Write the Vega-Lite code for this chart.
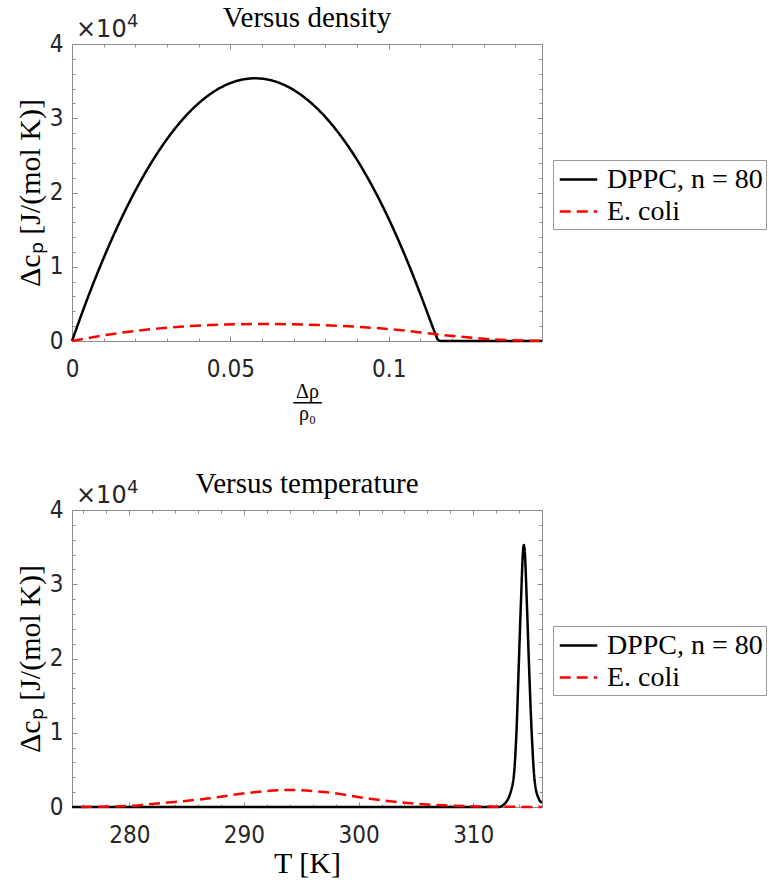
{
  "$schema": "https://vega.github.io/schema/vega-lite/v6.json",
  "background": "white",
  "padding": {"left": 14, "top": 3, "right": 0, "bottom": 3},
  "datasets": {
    "density": [
      {"drho": 0, "dcp": 0, "series": "DPPC, n = 80"},
      {"drho": 0.005, "dcp": 5857, "series": "DPPC, n = 80"},
      {"drho": 0.01, "dcp": 11184, "series": "DPPC, n = 80"},
      {"drho": 0.015, "dcp": 15981, "series": "DPPC, n = 80"},
      {"drho": 0.02, "dcp": 20249, "series": "DPPC, n = 80"},
      {"drho": 0.025, "dcp": 23987, "series": "DPPC, n = 80"},
      {"drho": 0.03, "dcp": 27196, "series": "DPPC, n = 80"},
      {"drho": 0.035, "dcp": 29875, "series": "DPPC, n = 80"},
      {"drho": 0.04, "dcp": 32025, "series": "DPPC, n = 80"},
      {"drho": 0.045, "dcp": 33645, "series": "DPPC, n = 80"},
      {"drho": 0.05, "dcp": 34736, "series": "DPPC, n = 80"},
      {"drho": 0.055, "dcp": 35297, "series": "DPPC, n = 80"},
      {"drho": 0.0578, "dcp": 35380, "series": "DPPC, n = 80"},
      {"drho": 0.06, "dcp": 35329, "series": "DPPC, n = 80"},
      {"drho": 0.065, "dcp": 34831, "series": "DPPC, n = 80"},
      {"drho": 0.07, "dcp": 33804, "series": "DPPC, n = 80"},
      {"drho": 0.075, "dcp": 32247, "series": "DPPC, n = 80"},
      {"drho": 0.08, "dcp": 30161, "series": "DPPC, n = 80"},
      {"drho": 0.085, "dcp": 27545, "series": "DPPC, n = 80"},
      {"drho": 0.09, "dcp": 24400, "series": "DPPC, n = 80"},
      {"drho": 0.095, "dcp": 20700, "series": "DPPC, n = 80"},
      {"drho": 0.1, "dcp": 16450, "series": "DPPC, n = 80"},
      {"drho": 0.105, "dcp": 11650, "series": "DPPC, n = 80"},
      {"drho": 0.11, "dcp": 6300, "series": "DPPC, n = 80"},
      {"drho": 0.113, "dcp": 2900, "series": "DPPC, n = 80"},
      {"drho": 0.1148, "dcp": 900, "series": "DPPC, n = 80"},
      {"drho": 0.1156, "dcp": 150, "series": "DPPC, n = 80"},
      {"drho": 0.1165, "dcp": 0, "series": "DPPC, n = 80"},
      {"drho": 0.1484, "dcp": 0, "series": "DPPC, n = 80"},
      {"drho": 0, "dcp": 0, "series": "E. coli"},
      {"drho": 0.0119, "dcp": 890, "series": "E. coli"},
      {"drho": 0.0277, "dcp": 1700, "series": "E. coli"},
      {"drho": 0.0435, "dcp": 2150, "series": "E. coli"},
      {"drho": 0.0593, "dcp": 2290, "series": "E. coli"},
      {"drho": 0.0698, "dcp": 2240, "series": "E. coli"},
      {"drho": 0.0856, "dcp": 2020, "series": "E. coli"},
      {"drho": 0.1014, "dcp": 1560, "series": "E. coli"},
      {"drho": 0.1171, "dcp": 810, "series": "E. coli"},
      {"drho": 0.1329, "dcp": 220, "series": "E. coli"},
      {"drho": 0.1484, "dcp": 20, "series": "E. coli"}
    ],
    "temperature": [
      {"T": 275, "dcp": 0, "series": "DPPC, n = 80"},
      {"T": 312.2, "dcp": 0, "series": "DPPC, n = 80"},
      {"T": 312.75, "dcp": 440, "series": "DPPC, n = 80"},
      {"T": 313.47, "dcp": 3340, "series": "DPPC, n = 80"},
      {"T": 313.77, "dcp": 10030, "series": "DPPC, n = 80"},
      {"T": 313.97, "dcp": 18940, "series": "DPPC, n = 80"},
      {"T": 314.17, "dcp": 27860, "series": "DPPC, n = 80"},
      {"T": 314.35, "dcp": 34550, "series": "DPPC, n = 80"},
      {"T": 314.42, "dcp": 35300, "series": "DPPC, n = 80"},
      {"T": 314.49, "dcp": 34550, "series": "DPPC, n = 80"},
      {"T": 314.67, "dcp": 27860, "series": "DPPC, n = 80"},
      {"T": 314.87, "dcp": 18940, "series": "DPPC, n = 80"},
      {"T": 315.1, "dcp": 10030, "series": "DPPC, n = 80"},
      {"T": 315.37, "dcp": 3340, "series": "DPPC, n = 80"},
      {"T": 315.72, "dcp": 1110, "series": "DPPC, n = 80"},
      {"T": 316, "dcp": 575, "series": "DPPC, n = 80"},
      {"T": 275.8, "dcp": 0, "series": "E. coli"},
      {"T": 279.8, "dcp": 135, "series": "E. coli"},
      {"T": 283.3, "dcp": 590, "series": "E. coli"},
      {"T": 287.0, "dcp": 1170, "series": "E. coli"},
      {"T": 290.2, "dcp": 1870, "series": "E. coli"},
      {"T": 294.0, "dcp": 2290, "series": "E. coli"},
      {"T": 297.2, "dcp": 1990, "series": "E. coli"},
      {"T": 301.0, "dcp": 1120, "series": "E. coli"},
      {"T": 304.5, "dcp": 500, "series": "E. coli"},
      {"T": 307.4, "dcp": 230, "series": "E. coli"},
      {"T": 311.7, "dcp": 50, "series": "E. coli"},
      {"T": 316.0, "dcp": 0, "series": "E. coli"}
    ]
  },
  "config": {
    "view": {"stroke": "#8c8c8c", "strokeWidth": 1},
    "axis": {
      "labelFont": "DejaVu Sans Condensed, DejaVu Sans", "labelFontSize": 24, "labelColor": "#262626",
      "titleFont": "Liberation Serif", "titleFontSize": 30, "titleFontWeight": "normal", "titleColor": "#000000",
      "grid": false, "labelFlush": false, "labelOverlap": false,
      "tickColor": "#8c8c8c", "domainColor": "#8c8c8c", "tickWidth": 1
    },
    "legend": {
      "orient": "none", "legendX": 481, "legendY": 116, "title": null, "symbolType": "M-1.25,0H1.25", "symbolSize": 900,
      "symbolStrokeWidth": 2.5, "labelFont": "Liberation Serif", "labelFontSize": 28, "labelColor": "#000000",
      "strokeColor": "#999999", "fillColor": "white", "padding": 3, "rowPadding": 1, "labelOffset": 12, "symbolOffset": 6
    },
    "title": {"font": "Liberation Serif", "fontSize": 29, "fontWeight": "normal", "color": "#000000", "frame": "group", "anchor": "middle", "baseline": "alphabetic"}
  },
  "spacing": 45,
  "resolve": {
    "scale": {"color": "independent", "strokeDash": "independent"},
    "legend": {"color": "independent", "strokeDash": "independent"}
  },
  "vconcat": [
    {
      "title": {"text": "Versus density", "offset": -20},
      "width": 470,
      "height": 297,
      "resolve": {"axis": {"x": "independent", "y": "independent"}},
      "layer": [
        {
          "data": {"name": "density"},
          "mark": {"type": "line", "strokeWidth": 2.5, "interpolate": "monotone"},
          "encoding": {
            "x": {"field": "drho", "type": "quantitative",
                  "scale": {"domain": [0, 0.1484], "nice": false, "zero": false},
                  "axis": {"orient": "bottom", "values": [0, 0.05, 0.1], "labelExpr": "format(datum.value, '~g')", "ticks": false, "domain": false, "labelPadding": 16,
                           "title": ["Δρ", "──", "ρ₀"], "titleFontSize": 20, "titleLineHeight": 11, "titlePadding": 0}},
            "y": {"field": "dcp", "type": "quantitative",
                  "scale": {"domain": [0, 40000], "nice": false},
                  "axis": {"orient": "left", "values": [0, 10000, 20000, 30000, 40000], "labelExpr": "format(datum.value/10000, 'd')",
                           "ticks": false, "domain": false, "labelPadding": 9, "title": "Δcₚ [J/(mol K)]", "titlePadding": 4}},
            "color": {"field": "series", "type": "nominal",
                      "scale": {"domain": ["DPPC, n = 80", "E. coli"], "range": ["#000000", "#ff0000"]}},
            "strokeDash": {"field": "series", "type": "nominal",
                           "scale": {"domain": ["DPPC, n = 80", "E. coli"], "range": [[1, 0], [11, 6]]}}
          }
        },
        {
          "data": {"values": [{"t": "×10"}]},
          "mark": {"type": "text", "align": "left", "baseline": "alphabetic", "dx": 4, "dy": -7, "font": "DejaVu Sans", "fontSize": 24, "color": "#262626"},
          "encoding": {
            "text": {"field": "t"},
            "x": {"datum": 0, "type": "quantitative",
                  "axis": {"orient": "bottom", "values": [0, 0.01, 0.02, 0.03, 0.04, 0.05, 0.06, 0.07, 0.08, 0.09, 0.1, 0.11, 0.12, 0.13, 0.14],
                           "labels": false, "domain": false, "title": null,
                           "tickSize": {"condition": {"test": "abs(datum.value*20 - round(datum.value*20)) < 0.000001", "value": -5}, "value": -3}}},
            "y": {"datum": 40000, "type": "quantitative",
                  "axis": {"orient": "left", "values": [0, 2000, 4000, 6000, 8000, 10000, 12000, 14000, 16000, 18000, 20000, 22000, 24000, 26000, 28000, 30000, 32000, 34000, 36000, 38000, 40000],
                           "labels": false, "domain": false, "title": null,
                           "tickSize": {"condition": {"test": "datum.value % 10000 === 0", "value": -5}, "value": -3}}}
          }
        },
        {
          "data": {"values": [{"t": "4"}]},
          "mark": {"type": "text", "align": "left", "baseline": "alphabetic", "dx": 55, "dy": -17, "font": "DejaVu Sans", "fontSize": 18, "color": "#262626"},
          "encoding": {
            "text": {"field": "t"},
            "x": {"datum": 0, "type": "quantitative",
                  "axis": {"orient": "top", "values": [0, 0.01, 0.02, 0.03, 0.04, 0.05, 0.06, 0.07, 0.08, 0.09, 0.1, 0.11, 0.12, 0.13, 0.14],
                           "labels": false, "domain": false, "title": null,
                           "tickSize": {"condition": {"test": "abs(datum.value*20 - round(datum.value*20)) < 0.000001", "value": -5}, "value": -3}}},
            "y": {"datum": 40000, "type": "quantitative",
                  "axis": {"orient": "right", "values": [0, 2000, 4000, 6000, 8000, 10000, 12000, 14000, 16000, 18000, 20000, 22000, 24000, 26000, 28000, 30000, 32000, 34000, 36000, 38000, 40000],
                           "labels": false, "domain": false, "title": null,
                           "tickSize": {"condition": {"test": "datum.value % 10000 === 0", "value": -5}, "value": -3}}}
          }
        }
      ]
    },
    {
      "title": {"text": "Versus temperature", "offset": -20},
      "width": 470,
      "height": 297,
      "resolve": {"axis": {"x": "independent", "y": "independent"}},
      "layer": [
        {
          "data": {"name": "temperature"},
          "mark": {"type": "line", "strokeWidth": 2.5, "interpolate": "monotone"},
          "encoding": {
            "x": {"field": "T", "type": "quantitative",
                  "scale": {"domain": [275, 316], "nice": false, "zero": false},
                  "axis": {"orient": "bottom", "values": [280, 290, 300, 310], "ticks": false, "domain": false, "labelPadding": 16,
                           "title": "T [K]", "titleFontSize": 30, "titlePadding": 1}},
            "y": {"field": "dcp", "type": "quantitative",
                  "scale": {"domain": [0, 40000], "nice": false},
                  "axis": {"orient": "left", "values": [0, 10000, 20000, 30000, 40000], "labelExpr": "format(datum.value/10000, 'd')",
                           "ticks": false, "domain": false, "labelPadding": 9, "title": "Δcₚ [J/(mol K)]", "titlePadding": 4}},
            "color": {"field": "series", "type": "nominal",
                      "scale": {"domain": ["DPPC, n = 80", "E. coli"], "range": ["#000000", "#ff0000"]}},
            "strokeDash": {"field": "series", "type": "nominal",
                           "scale": {"domain": ["DPPC, n = 80", "E. coli"], "range": [[1, 0], [11, 6]]}}
          }
        },
        {
          "data": {"values": [{"t": "×10"}]},
          "mark": {"type": "text", "align": "left", "baseline": "alphabetic", "dx": 4, "dy": -7, "font": "DejaVu Sans", "fontSize": 24, "color": "#262626"},
          "encoding": {
            "text": {"field": "t"},
            "x": {"datum": 275, "type": "quantitative",
                  "axis": {"orient": "bottom", "values": [276, 278, 280, 282, 284, 286, 288, 290, 292, 294, 296, 298, 300, 302, 304, 306, 308, 310, 312, 314, 316],
                           "labels": false, "domain": false, "title": null,
                           "tickSize": {"condition": {"test": "datum.value % 10 === 0", "value": -5}, "value": -3}}},
            "y": {"datum": 40000, "type": "quantitative",
                  "axis": {"orient": "left", "values": [0, 2000, 4000, 6000, 8000, 10000, 12000, 14000, 16000, 18000, 20000, 22000, 24000, 26000, 28000, 30000, 32000, 34000, 36000, 38000, 40000],
                           "labels": false, "domain": false, "title": null,
                           "tickSize": {"condition": {"test": "datum.value % 10000 === 0", "value": -5}, "value": -3}}}
          }
        },
        {
          "data": {"values": [{"t": "4"}]},
          "mark": {"type": "text", "align": "left", "baseline": "alphabetic", "dx": 55, "dy": -17, "font": "DejaVu Sans", "fontSize": 18, "color": "#262626"},
          "encoding": {
            "text": {"field": "t"},
            "x": {"datum": 275, "type": "quantitative",
                  "axis": {"orient": "top", "values": [276, 278, 280, 282, 284, 286, 288, 290, 292, 294, 296, 298, 300, 302, 304, 306, 308, 310, 312, 314, 316],
                           "labels": false, "domain": false, "title": null,
                           "tickSize": {"condition": {"test": "datum.value % 10 === 0", "value": -5}, "value": -3}}},
            "y": {"datum": 40000, "type": "quantitative",
                  "axis": {"orient": "right", "values": [0, 2000, 4000, 6000, 8000, 10000, 12000, 14000, 16000, 18000, 20000, 22000, 24000, 26000, 28000, 30000, 32000, 34000, 36000, 38000, 40000],
                           "labels": false, "domain": false, "title": null,
                           "tickSize": {"condition": {"test": "datum.value % 10000 === 0", "value": -5}, "value": -3}}}
          }
        }
      ]
    }
  ]
}
